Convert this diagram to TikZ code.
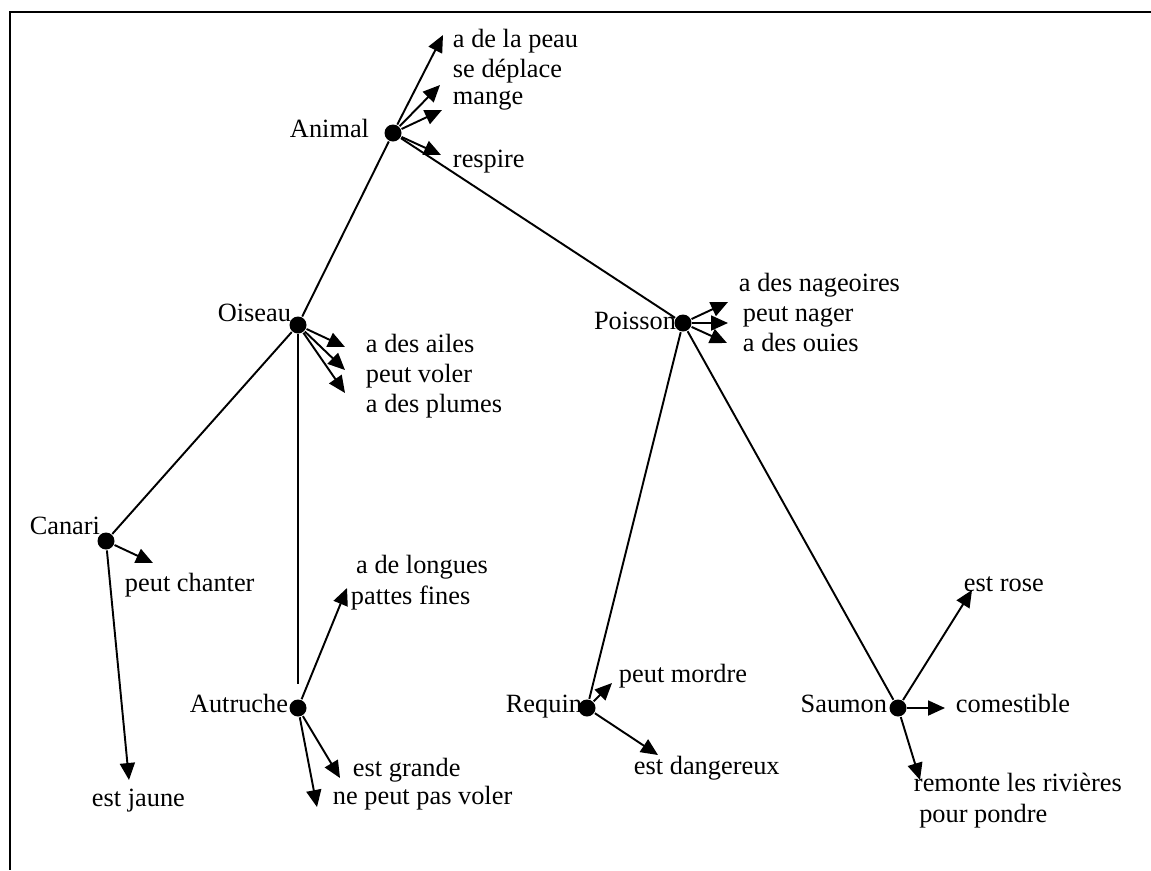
\documentclass[tikz,border=0pt]{standalone}
\usepackage{fontspec}
\setmainfont{Liberation Serif}
\usetikzlibrary{arrows.meta}
\tikzset{
  every picture/.style={line width=1.1pt},
  dot/.style={circle, fill=black, inner sep=0pt, minimum size=0.34cm},
  cls/.style={anchor=mid east, inner sep=0pt},
  prop/.style={anchor=mid west, inner sep=0pt, align=left},
  isa/.style={draw=black},
  has/.style={-{Triangle[length=0.34cm, width=0.3cm]}},
  frame/.style={line width=1.6pt},
}

\begin{document}
\begin{tikzpicture}[
    x=0.02cm, y=-0.02cm,
    every node/.append style={font=\fontsize{15}{17.5}\selectfont},
  ]
  \useasboundingbox (0,0) rectangle (1151,870);
  \coordinate (fr1) at (1151,12);
  \coordinate (fr2) at (10,12);
  \coordinate (fr3) at (10,870);
  \draw[frame] (fr1) -- (fr2) -- (fr3);

  % classes
  \node[dot] (animal) at (393,133) {};
  \node[dot] (oiseau) at (298,325) {};
  \node[dot] (poisson) at (683,323) {};
  \node[dot] (canari) at (106,541) {};
  \node[dot] (autruche) at (298,708) {};
  \node[dot] (requin) at (587,708) {};
  \node[dot] (saumon) at (898,708) {};
  \node[cls] (l-animal) at (370,133) {Animal};
  \node[cls] (l-oiseau) at (292,317) {Oiseau};
  \node[cls] (l-poisson) at (677,325) {Poisson};
  \node[cls] (l-canari) at (101,530) {Canari};
  \node[cls] (l-autruche) at (289,708) {Autruche};
  \node[cls] (l-requin) at (583,708) {Requin};
  \node[cls] (l-saumon) at (888,708) {Saumon};
  \draw[isa] (animal) -- (oiseau);
  \draw[isa] (animal) -- (poisson);
  \draw[isa] (oiseau) -- (canari);
  \draw[isa, shorten >=0.3cm] (oiseau) -- (autruche);
  \draw[isa] (poisson) -- (requin);
  \draw[isa] (poisson) -- (saumon);

  % animal
  \coordinate (a-peau) at (443,35);
  \coordinate (a-deplace) at (440,85);
  \coordinate (a-mange) at (442,110);
  \coordinate (a-respire) at (441,155);
  \node[prop] (peau) at (452,43) {a de la peau};
  \node[prop] (deplace) at (452,73) {se déplace};
  \node[prop] (mange) at (452,100) {mange};
  \node[prop] (respire) at (452,163) {respire};
  \draw[has] (animal) -- (a-peau);
  \draw[has] (animal) -- (a-deplace);
  \draw[has] (animal) -- (a-mange);
  \draw[has] (animal) -- (a-respire);

  % oiseau
  \coordinate (a-ailes) at (345,347);
  \coordinate (a-voler) at (345,370);
  \coordinate (a-plumes) at (345,393);
  \node[prop] (ailes) at (365,348) {a des ailes};
  \node[prop] (voler) at (365,378) {peut voler};
  \node[prop] (plumes) at (365,408) {a des plumes};
  \draw[has] (oiseau) -- (a-ailes);
  \draw[has] (oiseau) -- (a-voler);
  \draw[has] (oiseau) -- (a-plumes);

  % poisson
  \coordinate (a-nageoires) at (728,302);
  \coordinate (a-nager) at (728,323);
  \coordinate (a-ouies) at (727,343);
  \node[prop] (nageoires) at (738,287) {a des nageoires};
  \node[prop] (nager) at (742,317) {peut nager};
  \node[prop] (ouies) at (742,347) {a des ouies};
  \draw[has] (poisson) -- (a-nageoires);
  \draw[has] (poisson) -- (a-nager);
  \draw[has] (poisson) -- (a-ouies);

  % canari
  \coordinate (a-chanter) at (153,563);
  \coordinate (a-jaune) at (129,780);
  \node[prop] (chanter) at (124,587) {peut chanter};
  \node[prop] (jaune) at (91,802) {est jaune};
  \draw[has] (canari) -- (a-chanter);
  \draw[has] (canari) -- (a-jaune);

  % autruche
  \coordinate (a-pattes) at (347,588);
  \coordinate (a-grande) at (340,778);
  \coordinate (a-pasvoler) at (317,807);
  \node[prop] (pattes) at (350,600) {\hspace*{3pt}a de longues\\pattes fines};
  \node[prop] (grande) at (352,772) {est grande};
  \node[prop] (pasvoler) at (332,800) {ne peut pas voler};
  \draw[has] (autruche) -- (a-pattes);
  \draw[has] (autruche) -- (a-grande);
  \draw[has] (autruche) -- (a-pasvoler);

  % requin
  \coordinate (a-mordre) at (612,683);
  \coordinate (a-dangereux) at (658,755);
  \node[prop] (mordre) at (618,678) {peut mordre};
  \node[prop] (dangereux) at (633,770) {est dangereux};
  \draw[has] (requin) -- (a-mordre);
  \draw[has] (requin) -- (a-dangereux);

  % saumon
  \coordinate (a-rose) at (972,590);
  \coordinate (a-comestible) at (945,708);
  \coordinate (a-rivieres) at (920,780);
  \node[prop] (rose) at (963,587) {est rose};
  \node[prop] (comestible) at (955,708) {comestible};
  \node[prop] (rivieres) at (913,818) {remonte les rivières\\\hspace*{3pt}pour pondre};
  \draw[has] (saumon) -- (a-rose);
  \draw[has] (saumon) -- (a-comestible);
  \draw[has] (saumon) -- (a-rivieres);
\end{tikzpicture}
\end{document}
